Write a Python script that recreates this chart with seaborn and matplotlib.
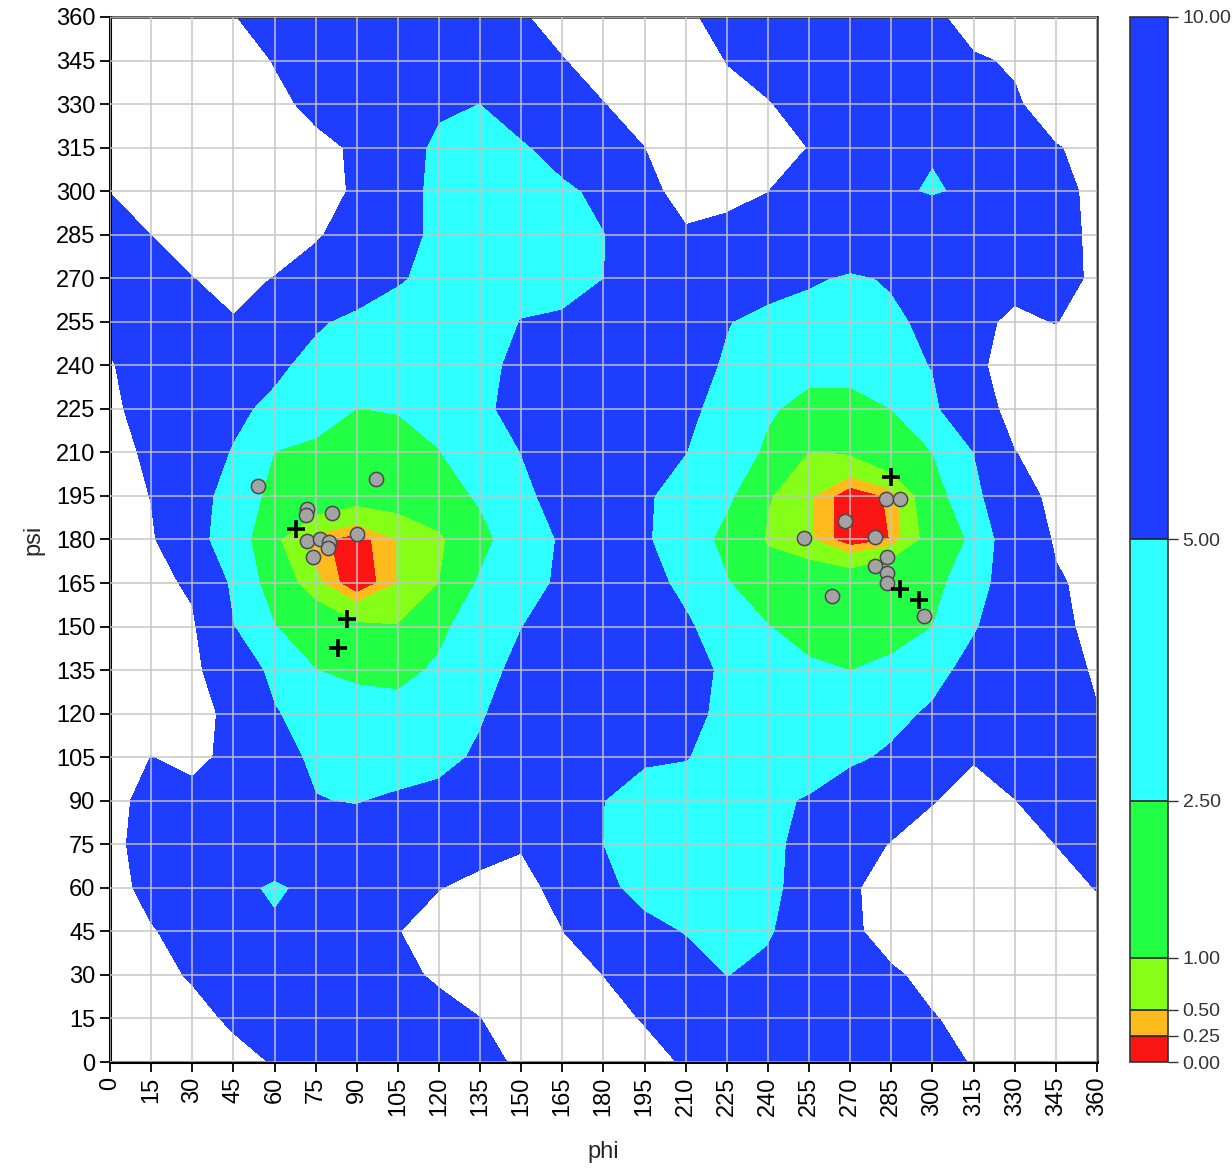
import numpy as np
import matplotlib
matplotlib.use("Agg")
import matplotlib.pyplot as plt
import seaborn as sns

# Grid positions of the energy map (degrees)
phi_grid = list(range(0, 361, 15))
psi_grid = list(range(0, 361, 15))

# Energy map, one row per psi value from 360 (top) down to 0,
# one column per phi value from 0 to 360. Values above 10 are left unfilled.
energy_rows = [
    [13, 13, 13, 10.2, 8, 7, 7, 7, 7, 8, 9.5, 12, 13, 13, 11, 8, 7, 7, 7, 8, 9, 12, 13, 13, 13],
    [13, 13, 12, 12, 9.8, 8, 7, 7, 7, 7, 8, 9.8, 12, 13, 12, 9.9, 8, 7, 7, 7, 7, 9.5, 10.5, 12, 13],
    [13, 13, 13, 12, 11, 9, 7, 6, 5.5, 4.95, 7, 9, 9.9, 12, 12, 11, 10.3, 8, 7, 7, 7, 8, 9.5, 12, 13],
    [13, 13, 13, 13, 12, 11, 9.5, 6.5, 4.3, 4, 4.5, 6.5, 8, 10, 12, 12, 12, 9.9, 8, 7, 5.3, 7, 8, 9.8, 11],
    [10.05, 12, 13, 13, 12, 11.5, 9.5, 6.5, 4, 3.8, 4, 4.3, 5.8, 9.2, 11, 11, 10.05, 8, 7, 5.7, 4.6, 5.7, 7, 9, 10.8],
    [9, 10.02, 12, 13, 12, 10.5, 8, 6.5, 4, 3.7, 3.8, 4, 4.9, 6.5, 9.7, 9, 8.5, 8, 7, 7, 8.1, 7, 8, 9, 10.6],
    [8, 9, 9.95, 11, 9.9, 8, 7, 5.3, 4, 3.5, 3.5, 3.8, 4.98, 6, 7, 7, 6, 5.3, 4.7, 5.2, 6.5, 8, 9.5, 9, 10.5],
    [9, 8.5, 9, 9.8, 7.5, 5.4, 4.2, 3.5, 3, 3, 5.1, 5.44, 6, 7, 7, 5.1, 4.3, 4, 3.6, 4.6, 5.5, 9.6, 10.3, 9.95, 10.8],
    [10.3, 8, 7, 6.5, 5.6, 4, 3.2, 2.8, 2.9, 4.4, 5.5, 6.5, 7, 7, 6, 4.7, 3.5, 3, 3, 4, 5.1, 9.5, 11, 11, 11],
    [11, 8, 6.5, 5.6, 4.3, 3.5, 2.48, 2.6, 3, 4.5, 5.8, 6.5, 7, 6.5, 5.6, 4, 2.7, 2, 2, 2.5, 4.2, 8.5, 11, 12, 12],
    [12, 9, 6.5, 4.8, 2.45, 2, 1.6, 1.8, 2.45, 3.5, 5.02, 6, 6.5, 6, 5.02, 3.5, 2.2, 0.95, 1.05, 1.6, 2.48, 4.95, 9.95, 11, 12],
    [12, 9.9, 6, 4, 1.8, 1.5, 1.25, 1.3, 1.8, 2.7, 4.5, 5.8, 6, 5.3, 4, 2.8, 1.05, 0.55, 0.05, 0.3, 1.5, 4.2, 7.5, 11.5, 12],
    [12, 10.5, 6, 3.5, 1.1, 0.33, 0.1, 0.52, 0.8, 2.0, 3.5, 5.3, 6, 5.3, 3.5, 2.0, 0.9, 0.55, 0.05, 0.26, 1.3, 2.8, 7, 10.4, 12],
    [12, 11, 9.5, 4.2, 1.5, 0.6, 0.0, 0.51, 0.98, 2.7, 3.8, 5.5, 6, 6, 4.3, 2.6, 1.5, 1.5, 1.45, 1.85, 2.0, 3.5, 7, 9.6, 11],
    [12, 12, 10.5, 5.05, 2.55, 1.6, 1.1, 1.02, 2.1, 3.5, 4.95, 6, 6.5, 6, 5.4, 3.5, 2.55, 1.8, 1.6, 1.8, 2.48, 4.7, 7, 9.3, 10.8],
    [12, 12, 11, 7, 4.2, 2.52, 2.0, 2.0, 2.77, 4.2, 5.6, 6.5, 7, 7, 6, 4.5, 3.2, 2.8, 2.48, 2.9, 4.0, 6, 7.5, 9, 10.3],
    [12, 12, 11, 9.3, 5.2, 3.8, 3.5, 3.1, 3.5, 4.8, 6, 7, 7.5, 7, 5.8, 4.3, 3.2, 3.4, 3.4, 4.2, 5.4, 7, 8, 9, 9.9],
    [11, 9.98, 10.4, 9.6, 5.6, 4.7, 4.3, 4.0, 4.4, 5.3, 6.5, 7, 7, 5.3, 5.1, 4, 3.4, 3.6, 4.5, 5.4, 8, 9.85, 9, 8.5, 9],
    [11, 9, 9.5, 8.5, 7, 5.06, 4.9, 5.3, 5.6, 6.5, 7, 7, 5.02, 4, 3.8, 3.5, 4.5, 5.2, 6.5, 8, 9.9, 10.8, 10.05, 9, 8.5],
    [11, 8.5, 7.5, 7, 6.4, 6, 6, 6.5, 8.5, 9.3, 9.8, 8.5, 4.95, 3.8, 3.5, 3.4, 4.6, 5.5, 8.5, 10.2, 11, 11, 11, 9.98, 9],
    [11, 9.2, 7.5, 5.5, 4.7, 5.5, 6.5, 8, 9.95, 10.5, 10.8, 9.2, 5.8, 3.8, 3.2, 3.2, 4.5, 5.8, 9.5, 11.5, 12, 12, 11.5, 11, 9.9],
    [11.5, 10.2, 9, 7, 5.3, 6.5, 7.5, 9.95, 10.8, 11, 11, 10.05, 8, 6, 4.8, 3.8, 4.6, 7, 9.3, 11.5, 12, 12, 12, 12, 11],
    [12, 11, 9.7, 8, 7, 7, 8, 9.5, 10.3, 11, 11.5, 11, 9.98, 8, 6.5, 4.9, 5.8, 7, 8, 9.5, 11, 12, 12, 12, 12],
    [12, 12, 11, 9.5, 8, 7.5, 7.5, 8, 9.3, 9.98, 11, 11.5, 11, 9.8, 8, 6.5, 7, 8, 8.5, 9, 9.8, 11, 12, 12, 12],
    [12, 12, 11.5, 11, 9.8, 8.5, 8, 8.5, 9, 9.5, 10.27, 11, 11.5, 11, 9.7, 8, 8, 8.5, 9, 9.2, 9.5, 10.1, 12, 12, 12],
]

levels = [0.0, 0.25, 0.5, 1.0, 2.5, 5.0, 10.0]
level_colors = ["#fa1414", "#ffba1c", "#86ff18", "#22ff44", "#2effff", "#1f3dff"]

# Observed conformations (grey circles)
circle_phi = [54, 97, 72, 71.5, 81, 90, 72, 76.5, 80, 79.5, 74,
              283, 288, 268, 253, 279, 283.5, 279, 283.5, 283.5, 263.5, 297]
circle_psi = [198.5, 201, 190.5, 188.5, 189, 182, 179.5, 180, 179, 177, 174,
              194, 194, 186.5, 180.5, 181, 174, 171, 168.5, 165, 160.5, 153.5]

# Reference conformations (black crosses)
cross_phi = [68, 86.5, 83, 285, 288, 295]
cross_psi = [183.5, 152.5, 142.5, 201.5, 163, 159]

sns.set_style("ticks")
plt.rcParams["font.family"] = ["Liberation Sans", "DejaVu Sans"]

fig = plt.figure(figsize=(12.32, 11.70), dpi=100)
ax = fig.add_axes([0.0893, 0.0923, 0.8011, 0.8932])
cax = fig.add_axes([0.9172, 0.0923, 0.0308, 0.8932])

energy = np.flipud(np.array(energy_rows, dtype=float))
cs = ax.contourf(phi_grid, psi_grid, energy, levels=levels, colors=level_colors, zorder=1)

sns.scatterplot(x=circle_phi, y=circle_psi, s=105, color="#a4a4a4",
                edgecolor="#4a4a4a", linewidth=1.1, zorder=4, ax=ax, legend=False)
sns.scatterplot(x=cross_phi, y=cross_psi, marker="+", s=150, color="black",
                linewidth=2.6, zorder=5, ax=ax, legend=False)

ticks = list(range(0, 361, 15))
ax.set_xlim(0, 360)
ax.set_ylim(0, 360)
ax.set_xticks(ticks)
ax.set_yticks(ticks)
ax.set_xticklabels([str(t) for t in ticks], rotation=90)
ax.tick_params(direction="out", length=7, width=1.3, labelsize=17, colors="black")
ax.set_xlabel("phi", fontsize=17, labelpad=18)
ax.set_ylabel("psi", fontsize=17, labelpad=8)

ax.grid(True, color="#c4c4c4", alpha=0.8, linewidth=1.3)
ax.set_axisbelow(False)
for side in ["left", "bottom"]:
    ax.spines[side].set_linewidth(2.2)
    ax.spines[side].set_color("black")
for side in ["top", "right"]:
    ax.spines[side].set_linewidth(1.8)
    ax.spines[side].set_color("#333333")

cb = fig.colorbar(cs, cax=cax, spacing="proportional", ticks=levels, drawedges=True)
cb.ax.set_yticklabels(["%.2f" % v for v in levels])
cb.ax.tick_params(labelsize=14, length=7, width=1, direction="out", colors="#333333")
cb.outline.set_linewidth(1.2)
cb.outline.set_edgecolor("#333333")
cb.dividers.set_color("#222222")
cb.dividers.set_linewidth(1.2)

fig.savefig("out.png", dpi=100)
